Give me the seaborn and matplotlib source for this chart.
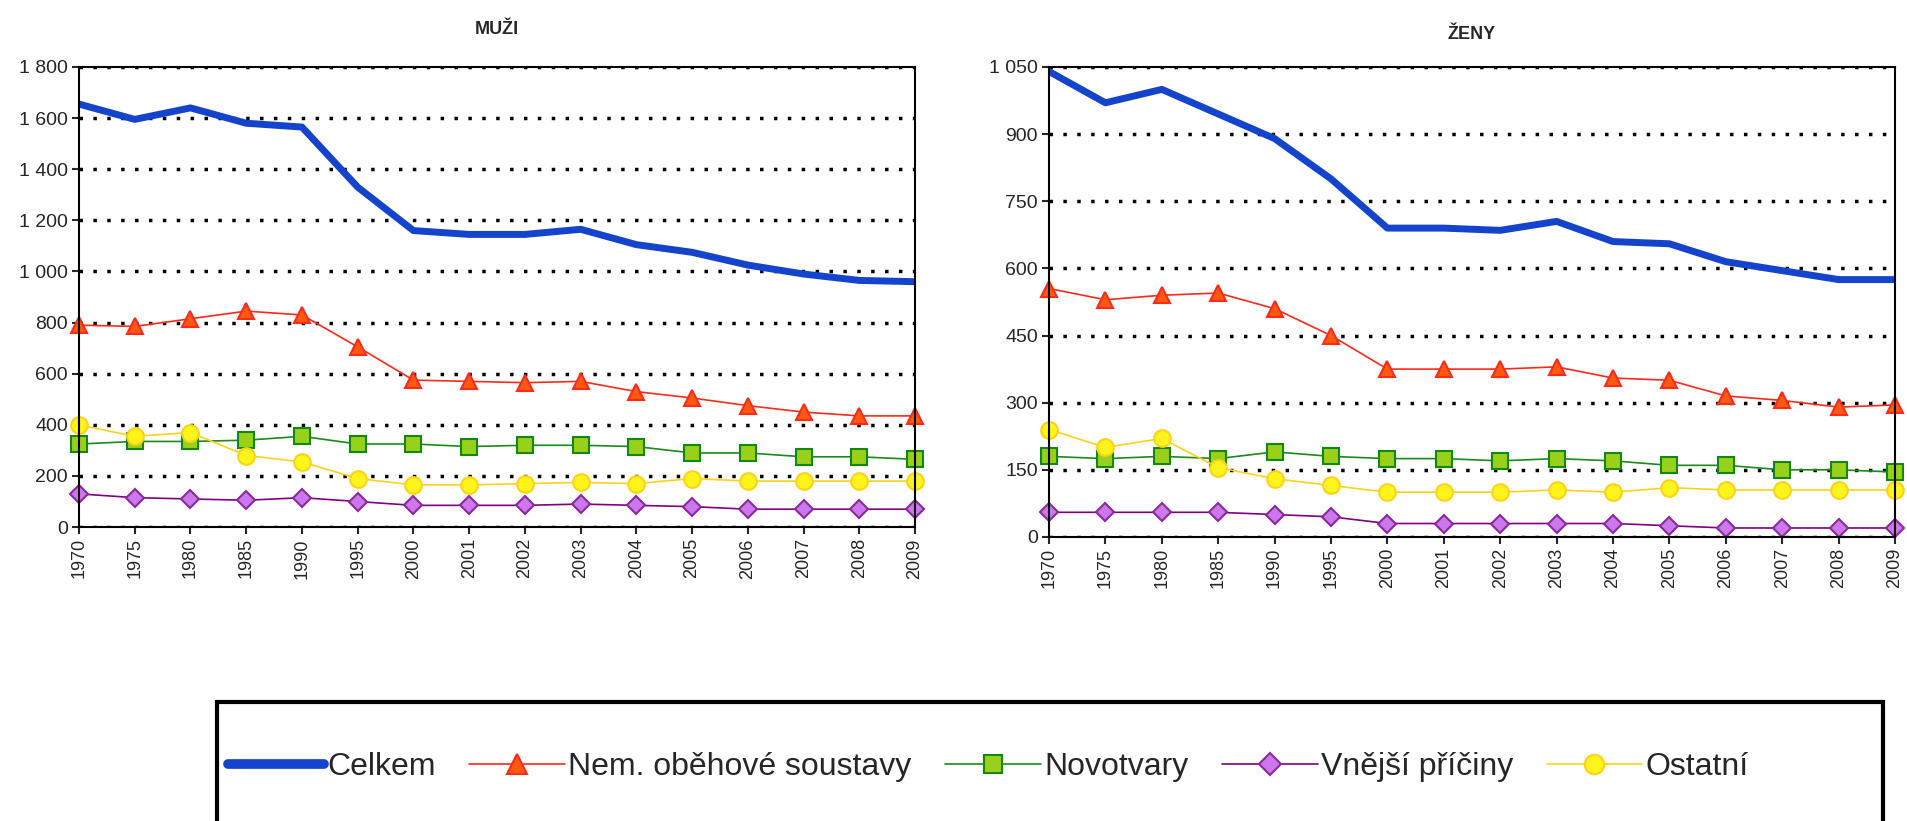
import numpy as np
import pandas as pd
import matplotlib
matplotlib.use('Agg')
import matplotlib.pyplot as plt
from matplotlib.ticker import FuncFormatter, FixedLocator
from matplotlib.patches import Rectangle
from matplotlib.lines import Line2D
import seaborn as sns

years = ['1970', '1975', '1980', '1985', '1990', '1995', '2000', '2001',
         '2002', '2003', '2004', '2005', '2006', '2007', '2008', '2009']
series_names = ['Celkem', 'Nem. oběhové soustavy', 'Novotvary', 'Vnější příčiny', 'Ostatní']

# MUŽI
muzi_celkem = [1655, 1595, 1640, 1580, 1565, 1330, 1160, 1145, 1145, 1165, 1105, 1075, 1025, 990, 965, 960]
muzi_obeh = [790, 785, 815, 845, 830, 705, 575, 570, 565, 570, 530, 505, 475, 450, 435, 435]
muzi_novo = [325, 335, 335, 340, 355, 325, 325, 315, 320, 320, 315, 290, 290, 275, 275, 265]
muzi_vnejsi = [130, 115, 110, 105, 115, 100, 85, 85, 85, 90, 85, 80, 70, 70, 70, 70]
muzi_ostatni = [400, 355, 370, 280, 255, 190, 165, 165, 170, 175, 170, 190, 180, 180, 180, 180]

# ŽENY
zeny_celkem = [1040, 970, 1000, 945, 890, 800, 690, 690, 685, 705, 660, 655, 615, 595, 575, 575]
zeny_obeh = [555, 530, 540, 545, 510, 450, 375, 375, 375, 380, 355, 350, 315, 305, 290, 295]
zeny_novo = [180, 175, 180, 175, 190, 180, 175, 175, 170, 175, 170, 160, 160, 150, 150, 145]
zeny_vnejsi = [55, 55, 55, 55, 50, 45, 30, 30, 30, 30, 30, 25, 20, 20, 20, 20]
zeny_ostatni = [240, 200, 220, 155, 130, 115, 100, 100, 100, 105, 100, 110, 105, 105, 105, 105]

muzi_ticks = [0, 200, 400, 600, 800, 1000, 1200, 1400, 1600, 1800]
zeny_ticks = [0, 150, 300, 450, 600, 750, 900, 1050]

# styl jednotlivych rad
styles = {
    'Celkem': dict(color='#1444CC', lw=5, marker=None, mfc=None, mec=None, ms=0),
    'Nem. oběhové soustavy': dict(color='#FF2A1A', lw=1.2, marker='^', mfc='#FF5A10', mec='#FF2A1A', ms=12),
    'Novotvary': dict(color='#1A8A1A', lw=1.2, marker='s', mfc='#99D01A', mec='#118811', ms=11),
    'Vnější příčiny': dict(color='#800080', lw=1.2, marker='D', mfc='#CC77EE', mec='#8A2A9A', ms=9),
    'Ostatní': dict(color='#FFD21A', lw=1.2, marker='o', mfc='#FFF51A', mec='#FFD21A', ms=12),
}

sns.set_theme(style='white')
plt.rcParams['font.family'] = ['Liberation Sans Narrow', 'Liberation Sans', 'DejaVu Sans']

fig = plt.figure(figsize=(19.08, 8.21), dpi=100)
ax1 = fig.add_axes([0.0414, 0.358, 0.4382, 0.5604])
ax2 = fig.add_axes([0.5498, 0.346, 0.4434, 0.5724])


def draw(ax, title, values, ticks, tpad):
    x = np.arange(len(years))
    for name, vals in zip(series_names, values):
        st = styles[name]
        df = pd.DataFrame({'x': x, 'y': vals})
        kw = dict(data=df, x='x', y='y', ax=ax, color=st['color'], linewidth=st['lw'])
        if st['marker']:
            kw.update(marker=st['marker'], markersize=st['ms'], markerfacecolor=st['mfc'],
                      markeredgecolor=st['mec'], markeredgewidth=1.5, clip_on=False)
        sns.lineplot(**kw)
    ax.set_xlim(0, len(years) - 1)
    ax.set_ylim(ticks[0], ticks[-1])
    ax.yaxis.set_major_locator(FixedLocator(ticks))
    ax.yaxis.set_major_formatter(FuncFormatter(lambda v, p: f'{int(v):,}'.replace(',', ' ')))
    ax.set_xticks(x)
    ax.set_xticklabels(years, rotation=90, fontsize=13)
    ax.tick_params(axis='y', labelsize=14, length=5, width=1.5, direction='out', left=True, pad=3)
    ax.tick_params(axis='x', length=5, width=1.5, direction='out', bottom=True, pad=3)
    ax.grid(axis='y', color='black', linestyle=(0, (1, 3)), linewidth=2.5)
    ax.set_axisbelow(True)
    for s in ['left', 'bottom', 'right', 'top']:
        ax.spines[s].set_color('black')
        ax.spines[s].set_linewidth(1.5)
    ax.set_xlabel('')
    ax.set_ylabel('')
    ax.set_title(title, fontsize=13, fontweight='bold', pad=tpad)


draw(ax1, 'MUŽI', [muzi_celkem, muzi_obeh, muzi_novo, muzi_vnejsi, muzi_ostatni], muzi_ticks, 24)
draw(ax2, 'ŽENY', [zeny_celkem, zeny_obeh, zeny_novo, zeny_vnejsi, zeny_ostatni], zeny_ticks, 20)

# legenda v ramecku dole (ramecek pokracuje pod okraj)
fig.patches.append(Rectangle((0.1137, -0.05), 0.8733, 0.195, transform=fig.transFigure,
                             fill=False, edgecolor='black', linewidth=3, clip_on=False))
handles = []
for name in series_names:
    st = styles[name]
    handles.append(Line2D([], [], color=st['color'], lw=st['lw'] if name != 'Celkem' else 7,
                          marker=st['marker'], markersize=st['ms'] + 2, markerfacecolor=st['mfc'],
                          markeredgecolor=st['mec'], markeredgewidth=1.5))
fig.legend(handles, series_names, loc='center', bbox_to_anchor=(0.518, 0.066), ncol=5,
           frameon=False, fontsize=23, handlelength=3.0, handletextpad=0.1, columnspacing=1.05)

fig.savefig('out.png', dpi=100)
